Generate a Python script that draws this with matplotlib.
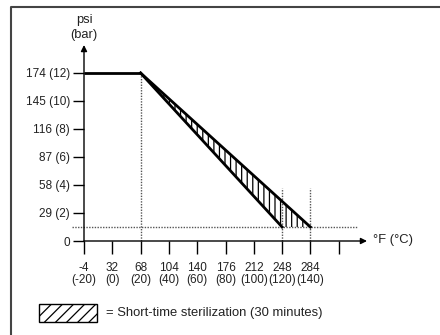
import matplotlib.pyplot as plt
from matplotlib.patches import Rectangle, Polygon
from matplotlib.lines import Line2D

plt.rcParams['font.family'] = ['Liberation Sans', 'DejaVu Sans']
plt.rcParams['hatch.linewidth'] = 0.9

# axis data (bar / degC) and labels
y_ticks = [0, 2, 4, 6, 8, 10, 12]
y_labels = ['0', '29 (2)', '58 (4)', '87 (6)', '116 (8)', '145 (10)', '174 (12)']
x_ticks = [-20, 0, 20, 40, 60, 80, 100, 120, 140, 160]
x_labels = ['-4\n(-20)', '32\n(0)', '68\n(20)', '104\n(40)', '140\n(60)',
            '176\n(80)', '212\n(100)', '248\n(120)', '284\n(140)', '']

# pressure curve
flat_t = [-20, 20]
flat_p = [12, 12]
knee = (20, 12)
short_end = (120, 1)
long_end = (140, 1)
min_p = 1

txt = '#222222'
fig = plt.figure(figsize=(4.4, 3.35), dpi=100)
ax = fig.add_axes([84 / 440, 1 - 241 / 335, 283 / 440, 196 / 335])
ax.set_xlim(-20, 180)
ax.set_ylim(0, 14)
for s in ax.spines.values():
    s.set_visible(False)
ax.patch.set_visible(False)

ax.set_yticks(y_ticks)
ax.set_yticklabels(y_labels, fontsize=8.5, color=txt)
ax.set_xticks(x_ticks)
ax.set_xticklabels(x_labels, fontsize=8.5, color=txt, linespacing=1.05)
ax.tick_params(axis='y', direction='out', length=8, width=1, pad=2)
ax.tick_params(axis='x', direction='out', length=9, width=1, pad=6)
for i, t in enumerate(ax.xaxis.get_major_ticks()):
    if x_ticks[i] in (20, 120, 140):
        t.tick1line.set_linestyle((0, (1, 1)))
        t.tick1line.set_color('#555555')

# axes with arrows
ax.annotate('', xy=(180, 0), xytext=(-20, 0), annotation_clip=False,
            arrowprops=dict(arrowstyle='-|>', color='black', lw=1, mutation_scale=9,
                            shrinkA=0, shrinkB=0))
ax.annotate('', xy=(-20, 14), xytext=(-20, 0), annotation_clip=False,
            arrowprops=dict(arrowstyle='-|>', color='black', lw=1, mutation_scale=9,
                            shrinkA=0, shrinkB=0))

# dotted guide lines
dot = dict(color='#555555', lw=1, linestyle=(0, (1, 1)), clip_on=False)
ax.plot([-28.5, 173.5], [min_p, min_p], **dot)
ax.plot([20, 20], [0, 12], **dot)
ax.plot([120, 120], [0, 3.8], **dot)
ax.plot([140, 140], [0, 3.8], **dot)

# hatched short-time sterilization zone
tri = Polygon([knee, short_end, long_end], closed=True, facecolor='white',
              edgecolor='black', hatch='|||', lw=0)
ax.add_patch(tri)
ax.plot(flat_t, flat_p, color='black', lw=2, solid_capstyle='butt')
ax.plot([knee[0], short_end[0]], [knee[1], short_end[1]], color='black', lw=2)
ax.plot([knee[0], long_end[0]], [knee[1], long_end[1]], color='black', lw=2)

# axis titles
fig.text(84 / 440, 1 - 20 / 335, 'psi', ha='center', va='center', fontsize=9.3, color=txt)
fig.text(84 / 440, 1 - 35 / 335, '(bar)', ha='center', va='center', fontsize=9.3, color=txt)
fig.text(373 / 440, 1 - 240 / 335, '°F (°C)', ha='left', va='center', fontsize=9.4, color=txt)

# legend
fig.patches.append(Rectangle((39 / 440, 1 - 322 / 335), 58 / 440, 18 / 335,
                             transform=fig.transFigure, facecolor='white',
                             edgecolor='black', lw=1, hatch='///'))
fig.text(106 / 440, 1 - 313 / 335, '= Short-time sterilization (30 minutes)',
         ha='left', va='center', fontsize=9.4, color=txt)

# frame (top and left)
fig.lines.append(Line2D([11 / 440, 11 / 440, 1], [0, 1 - 7 / 335, 1 - 7 / 335],
                        transform=fig.transFigure, color='#444444', lw=1.5))

fig.savefig('out.png', dpi=100)
